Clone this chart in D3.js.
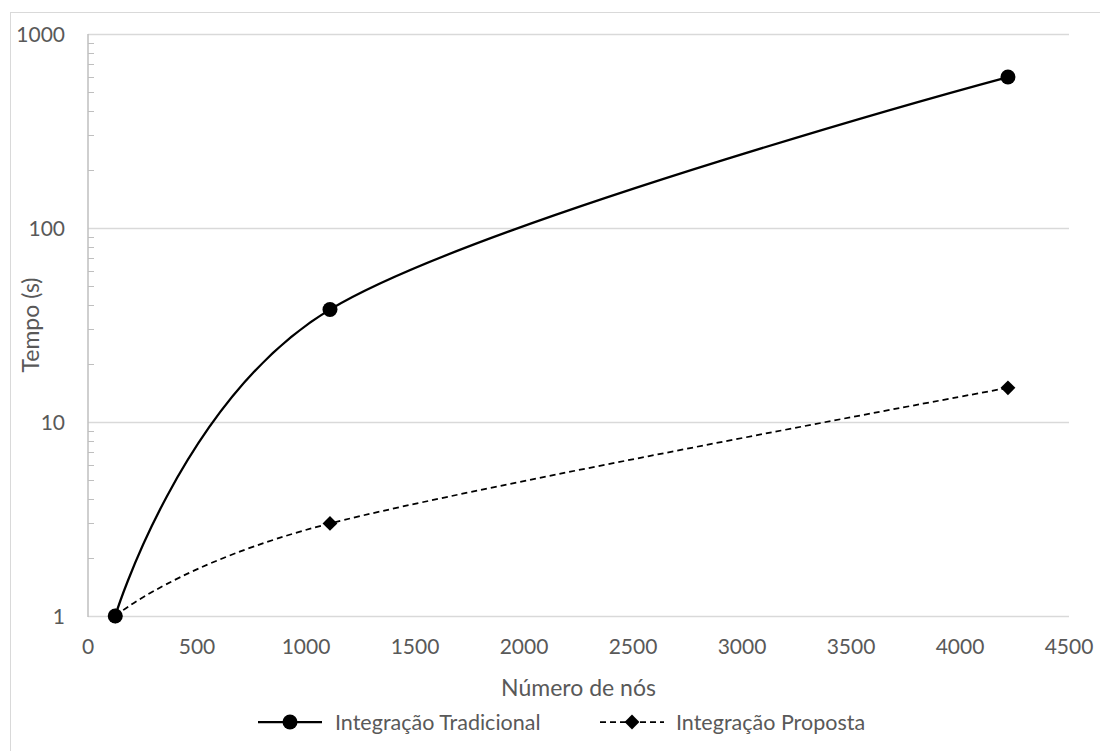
<!DOCTYPE html>
<html>
<head>
<meta charset="utf-8">
<script src="https://cdn.jsdelivr.net/npm/d3@7"></script>
<style>
body { margin: 0; background: #fff; }
svg { display: block; font-family: Lato, "Open Sans", sans-serif; }
</style>
</head>
<body>
<svg id="chart" width="1100" height="751"></svg>
<script>
// values
var nodes = [125, 1110, 4220];
var tradicional = [1, 38, 600];
var proposta = [1, 3, 15];
var xTicks = [0, 500, 1000, 1500, 2000, 2500, 3000, 3500, 4000, 4500];
var yTicks = [1, 10, 100, 1000];
var seriesNames = ["Integração Tradicional", "Integração Proposta"];

var textColor = "#595959";
var gridColor = "#d9d9d9";
var axisColor = "#bfbfbf";

var svg = d3.select("#chart");
var plotLeft = 88, plotRight = 1069, plotTop = 34, plotBottom = 616;

var x = d3.scaleLinear().domain([0, 4500]).range([plotLeft, plotRight]);
var y = d3.scaleLog().domain([1, 1000]).range([plotBottom, plotTop]);

// chart border
svg.append("rect")
    .attr("x", 10.5).attr("y", 12.5)
    .attr("width", 1100).attr("height", 760)
    .attr("fill", "none")
    .attr("stroke", gridColor)
    .attr("stroke-width", 1);

// horizontal gridlines
svg.append("g").selectAll("line")
    .data(yTicks)
    .enter().append("line")
    .attr("x1", plotLeft).attr("x2", plotRight)
    .attr("y1", function (d) { return Math.round(y(d)) + 0.5; })
    .attr("y2", function (d) { return Math.round(y(d)) + 0.5; })
    .attr("stroke", gridColor)
    .attr("stroke-width", 1.5);

// minor ticks 2..9 on each decade
var minor = [];
yTicks.slice(0, 3).forEach(function (d) {
    for (var k = 2; k <= 9; k++) minor.push(d * k);
});
svg.append("g").selectAll("line")
    .data(minor)
    .enter().append("line")
    .attr("x1", plotLeft).attr("x2", plotLeft + 6)
    .attr("y1", function (d) { return Math.round(y(d)) + 0.5; })
    .attr("y2", function (d) { return Math.round(y(d)) + 0.5; })
    .attr("stroke", axisColor)
    .attr("stroke-width", 1);

// y axis line
svg.append("line")
    .attr("x1", plotLeft).attr("x2", plotLeft)
    .attr("y1", plotTop).attr("y2", plotBottom + 1)
    .attr("stroke", axisColor)
    .attr("stroke-width", 1.5);

// y tick labels
svg.append("g").selectAll("text")
    .data(yTicks)
    .enter().append("text")
    .attr("x", 65)
    .attr("y", function (d) { return y(d) + 1; })
    .attr("dy", "0.35em")
    .attr("text-anchor", "end")
    .attr("fill", textColor)
    .style("font-size", "21px")
    .text(function (d) { return d; });

// x tick labels
svg.append("g").selectAll("text")
    .data(xTicks)
    .enter().append("text")
    .attr("x", function (d) { return x(d); })
    .attr("y", 647)
    .attr("dy", "0.35em")
    .attr("text-anchor", "middle")
    .attr("fill", textColor)
    .style("font-size", "21px")
    .text(function (d) { return d; });

// axis titles
svg.append("text")
    .attr("x", (plotLeft + plotRight) / 2)
    .attr("y", 688)
    .attr("dy", "0.35em")
    .attr("text-anchor", "middle")
    .attr("fill", textColor)
    .style("font-size", "23px")
    .text("Número de nós");

svg.append("text")
    .attr("transform", "translate(31," + (plotTop + plotBottom) / 2 + ") rotate(-90)")
    .attr("dy", "0.35em")
    .attr("text-anchor", "middle")
    .attr("fill", textColor)
    .style("font-size", "23px")
    .text("Tempo (s)");

// series
var line = d3.line()
    .x(function (d) { return x(d[0]); })
    .y(function (d) { return y(d[1]); })
    .curve(d3.curveCardinal.tension(0));

var tradData = nodes.map(function (n, i) { return [n, tradicional[i]]; });
var propData = nodes.map(function (n, i) { return [n, proposta[i]]; });

svg.append("path")
    .datum(propData)
    .attr("d", line)
    .attr("fill", "none")
    .attr("stroke", "#000")
    .attr("stroke-width", 1.75)
    .attr("stroke-dasharray", "6,4");

svg.append("path")
    .datum(tradData)
    .attr("d", line)
    .attr("fill", "none")
    .attr("stroke", "#000")
    .attr("stroke-width", 2.25);

var diamond = d3.symbol().type(d3.symbolSquare).size(110);

svg.append("g").selectAll("path")
    .data(propData)
    .enter().append("path")
    .attr("d", diamond)
    .attr("transform", function (d) { return "translate(" + x(d[0]) + "," + y(d[1]) + ") rotate(45)"; })
    .attr("fill", "#000");

svg.append("g").selectAll("circle")
    .data(tradData)
    .enter().append("circle")
    .attr("cx", function (d) { return x(d[0]); })
    .attr("cy", function (d) { return y(d[1]); })
    .attr("r", 7.5)
    .attr("fill", "#000");

// legend
var legY = 722;
var legend = svg.append("g");
legend.append("line")
    .attr("x1", 258).attr("x2", 322)
    .attr("y1", legY).attr("y2", legY)
    .attr("stroke", "#000").attr("stroke-width", 2.25);
legend.append("circle")
    .attr("cx", 290).attr("cy", legY).attr("r", 7.5).attr("fill", "#000");
legend.append("text")
    .attr("x", 335).attr("y", legY).attr("dy", "0.35em")
    .attr("fill", textColor).style("font-size", "21.5px")
    .text(seriesNames[0]);

legend.append("line")
    .attr("x1", 600).attr("x2", 664)
    .attr("y1", legY).attr("y2", legY)
    .attr("stroke", "#000").attr("stroke-width", 1.75)
    .attr("stroke-dasharray", "6,4");
legend.append("path")
    .attr("d", diamond)
    .attr("transform", "translate(632," + legY + ") rotate(45)")
    .attr("fill", "#000");
legend.append("text")
    .attr("x", 676).attr("y", legY).attr("dy", "0.35em")
    .attr("fill", textColor).style("font-size", "21.5px")
    .text(seriesNames[1]);
</script>
</body>
</html>
